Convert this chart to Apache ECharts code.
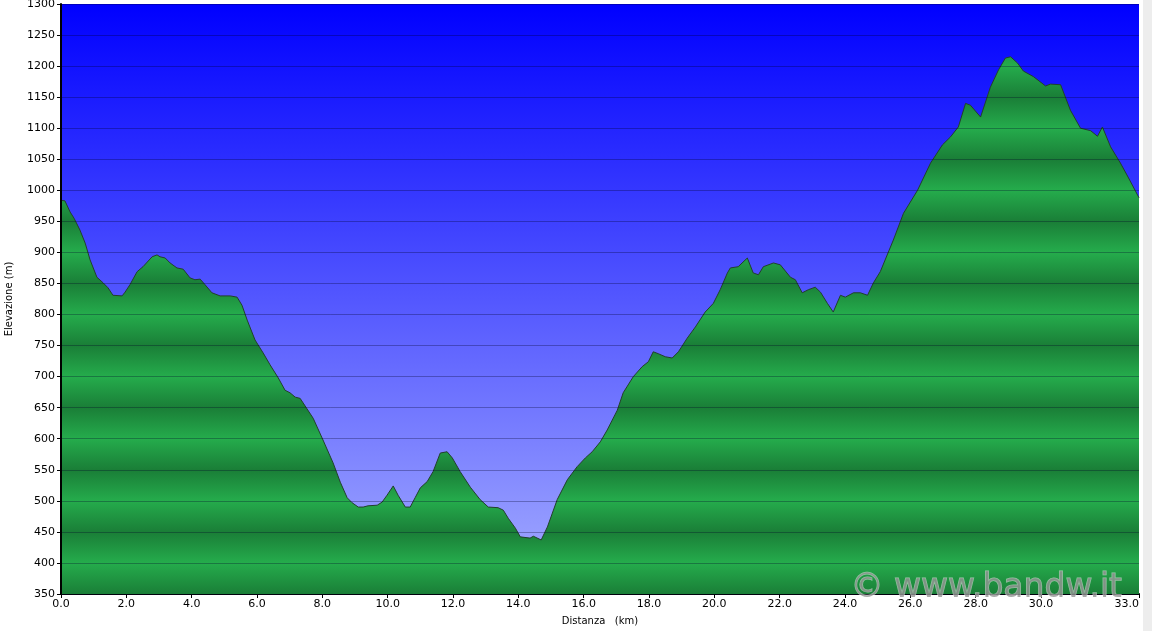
<!DOCTYPE html>
<html>
<head>
<meta charset="utf-8">
<script src="https://cdn.jsdelivr.net/npm/echarts@6/dist/echarts.min.js"></script>
<style>html,body{margin:0;padding:0;background:#fff;}#c{width:1152px;height:631px;}</style>
</head>
<body>
<div id="c"></div>
<script>
const distanceKm = [0.00,0.12,0.28,0.40,0.58,0.74,0.89,1.10,1.29,1.44,1.59,1.87,1.96,2.11,2.33,2.51,2.79,2.94,3.03,3.19,3.34,3.55,3.74,3.95,4.10,4.26,4.41,4.62,4.87,5.18,5.39,5.54,5.70,5.94,6.19,6.40,6.65,6.86,7.01,7.17,7.32,7.72,8.02,8.33,8.55,8.76,8.91,9.10,9.25,9.40,9.68,9.83,9.98,10.17,10.32,10.54,10.69,10.84,11.00,11.21,11.39,11.61,11.82,11.98,12.22,12.53,12.83,13.08,13.38,13.54,13.69,13.91,14.06,14.36,14.46,14.52,14.70,14.89,15.19,15.50,15.80,16.05,16.26,16.51,16.72,17.03,17.21,17.52,17.79,17.98,18.13,18.28,18.50,18.71,18.90,19.17,19.42,19.72,19.97,20.18,20.40,20.49,20.73,21.01,21.19,21.35,21.50,21.81,22.02,22.33,22.48,22.69,22.88,23.09,23.25,23.46,23.64,23.86,24.01,24.26,24.47,24.69,24.87,25.08,25.48,25.79,26.22,26.62,26.98,27.23,27.47,27.69,27.84,28.15,28.45,28.70,28.91,29.07,29.28,29.46,29.77,30.14,30.29,30.60,30.90,31.21,31.52,31.73,31.88,32.13,32.43,32.68,33.00];
const elevationM = [984,983,965,955,936,915,888,860,851,843,831,830,836,848,869,877,893,896,893,891,883,875,873,859,856,857,848,835,830,830,828,815,791,759,738,719,698,678,674,667,665,633,598,561,530,505,497,490,490,492,493,498,509,524,509,490,490,505,521,531,547,577,579,569,547,522,502,490,489,485,472,456,442,440,443,440,437,458,502,534,555,569,579,595,614,646,674,700,716,724,740,737,732,730,740,762,780,804,818,840,867,875,877,891,867,864,877,883,880,860,856,835,840,844,836,818,804,831,828,835,835,831,851,869,920,963,1000,1044,1073,1086,1102,1140,1137,1118,1166,1194,1213,1215,1205,1192,1183,1168,1171,1170,1129,1100,1096,1087,1102,1070,1044,1020,988];
const xTickValues = [0,2,4,6,8,10,12,14,16,18,20,22,24,26,28,30,33];
const yMin = 350, yMax = 1300, yStep = 50;
const xMin = 0, xMax = 33;

const gridTop = 4, gridBottom = 37, gridLeft = 61, gridRight = 13;
const H = 631;
const plotTopPx = gridTop, plotBottomPx = H - gridBottom;

// green banded fill (global pixel gradient)
const stops = [];
for (let v = yMax; v >= yMin; v -= yStep) {
  const off = (yMax - v) / (yMax - yMin);
  const dark = (v % 100) === 50;
  stops.push({offset: off, color: dark ? '#1a7e37' : '#25ac4c'});
}
const greenFill = {type:'linear', x:0, y:plotTopPx, x2:0, y2:plotBottomPx, global:true, colorStops: stops};

const chart = echarts.init(document.getElementById('c'));
chart.setOption({
  animation: false,
  backgroundColor: '#ffffff',
  grid: {
    left: gridLeft, right: gridRight, top: gridTop, bottom: gridBottom,
    outerBoundsMode: 'none', containLabel: false,
    show: true, borderWidth: 0,
    backgroundColor: {type:'linear', x:0, y:0, x2:0, y2:1, colorStops:[{offset:0,color:'#0000ff'},{offset:1,color:'#a6aeff'}]}
  },
  xAxis: {
    type: 'value', min: xMin, max: xMax,
    name: 'Distanza   (km)', nameLocation: 'middle', nameGap: 22,
    nameTextStyle: {fontFamily: 'DejaVu Sans', fontSize: 10, color: '#000'},
    axisLine: {show: true, lineStyle: {color: '#000', width: 2}},
    axisTick: {show: true, length: 4, lineStyle: {color: '#000'}, customValues: xTickValues},
    axisLabel: {customValues: xTickValues, formatter: v => v.toFixed(1), fontFamily: 'DejaVu Sans', fontSize: 11, color: '#000', margin: 5, alignMaxLabel: 'right'},
    splitLine: {show: false}
  },
  yAxis: {
    type: 'value', min: yMin, max: yMax, interval: yStep, z: 5,
    name: 'Elevazione (m)', nameLocation: 'middle', nameGap: 47,
    nameTextStyle: {fontFamily: 'DejaVu Sans', fontSize: 10, color: '#000'},
    axisLine: {show: true, lineStyle: {color: '#000', width: 2}},
    axisTick: {show: true, length: 4, lineStyle: {color: '#000'}},
    axisLabel: {formatter: v => String(v), fontFamily: 'DejaVu Sans', fontSize: 11, color: '#000', margin: 6},
    splitLine: {show: true, lineStyle: {color: 'rgba(0,0,40,0.3)', width: 1}}
  },
  series: [{
    type: 'line', showSymbol: false, z: 2,
    data: distanceKm.map((d, i) => [d, elevationM[i]]),
    lineStyle: {color: '#22402c', width: 1},
    areaStyle: {color: greenFill, opacity: 1, origin: 'start'}
  }],
  graphic: [
    {type: 'rect', left: 1143, top: 0, shape: {width: 9, height: H}, style: {fill: '#ededed'}, z: 10},
    {type: 'text', left: 850, top: 571, z: 20,
     style: {text: '© www.bandw.it', fontFamily: 'DejaVu Sans', fontSize: 33, fill: 'rgba(150,150,150,0.8)', stroke: 'rgba(255,255,255,0.5)', lineWidth: 1}}
  ]
});
</script>
</body>
</html>
